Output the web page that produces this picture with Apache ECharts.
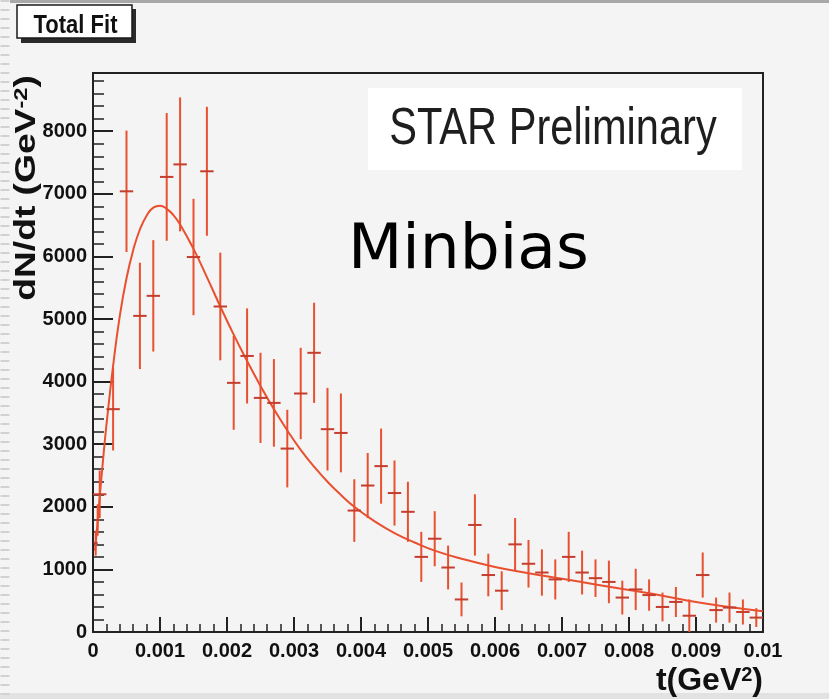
<!DOCTYPE html>
<html>
<head>
<meta charset="utf-8">
<script src="https://cdn.jsdelivr.net/npm/echarts@6/dist/echarts.min.js"></script>
<style>
html,body{margin:0;padding:0;background:#f4f4f4;}
#chart{width:829px;height:699px;}
</style>
</head>
<body>
<div id="chart"></div>
<script>
// ---- data ----
const tValues = [0.00004, 0.00007, 0.0001, 0.0003, 0.0005, 0.0007, 0.0009, 0.0011, 0.0013, 0.0015, 0.0017, 0.0019,
  0.0021, 0.0023, 0.0025, 0.0027, 0.0029, 0.0031, 0.0033, 0.0035, 0.0037, 0.0039,
  0.0041, 0.0043, 0.0045, 0.0047, 0.0049, 0.0051, 0.0053, 0.0055, 0.0057, 0.0059,
  0.0061, 0.0063, 0.0065, 0.0067, 0.0069, 0.0071, 0.0073, 0.0075, 0.0077, 0.0079,
  0.0081, 0.0083, 0.0085, 0.0087, 0.0089, 0.0091, 0.0093, 0.0095, 0.0097, 0.0099];
const dNdt = [1420, 1790, 2200, 3560, 7040, 5050, 5370, 7270, 7470, 5990, 7360, 5200,
  3980, 4410, 3740, 3660, 2930, 3810, 4460, 3240, 3180, 1940,
  2340, 2650, 2220, 1920, 1200, 1490, 1030, 520, 1710, 910,
  660, 1400, 1090, 950, 840, 1200, 950, 860, 800, 550,
  680, 590, 400, 480, 260, 910, 350, 390, 320, 230];
const dNdtErr = [200, 250, 380, 660, 970, 850, 890, 1020, 1070, 930, 1030, 860,
  750, 760, 720, 700, 620, 730, 800, 660, 630, 500,
  520, 600, 520, 480, 400, 440, 350, 270, 490, 340,
  310, 420, 380, 370, 320, 400, 350, 300, 340, 270,
  330, 250, 230, 240, 260, 360, 200, 240, 200, 150];
const binHalfWidth = [0.00003, 0.00003, 0.0001, 0.0001, 0.0001, 0.0001, 0.0001, 0.0001, 0.0001, 0.0001, 0.0001, 0.0001,
  0.0001, 0.0001, 0.0001, 0.0001, 0.0001, 0.0001, 0.0001, 0.0001, 0.0001, 0.0001,
  0.0001, 0.0001, 0.0001, 0.0001, 0.0001, 0.0001, 0.0001, 0.0001, 0.0001, 0.0001,
  0.0001, 0.0001, 0.0001, 0.0001, 0.0001, 0.0001, 0.0001, 0.0001, 0.0001, 0.0001,
  0.0001, 0.0001, 0.0001, 0.0001, 0.0001, 0.0001, 0.0001, 0.0001, 0.0001, 0.0001];

const fitT = [0.00003, 0.00006, 0.0001, 0.00015, 0.0002, 0.0003, 0.0004, 0.0005, 0.0006, 0.0007, 0.0008, 0.0009,
  0.001, 0.0011, 0.0012, 0.0013, 0.0015, 0.0017, 0.0019, 0.0021, 0.0023, 0.0025, 0.0027, 0.0029, 0.0031,
  0.0033, 0.0035, 0.0037, 0.0039, 0.0042, 0.0045, 0.0048, 0.0051, 0.0055, 0.006, 0.0065, 0.007, 0.0075,
  0.008, 0.0085, 0.009, 0.0095, 0.01];
const fitY = [1300, 1650, 2150, 2750, 3300, 4250, 5050, 5650, 6100, 6430, 6650, 6780,
  6810, 6760, 6660, 6510, 6120, 5670, 5200, 4750, 4330, 3930, 3560, 3220, 2910,
  2640, 2400, 2190, 2000, 1770, 1580, 1430, 1300, 1170, 1040, 940, 850, 760,
  670, 580, 480, 400, 330];

const xTitle = 't(GeV{sup|2})';
const yTitle = 'dN/dt (GeV{sup|-2})';

// ---- chart ----
const FONT = "'Liberation Sans',Arial,sans-serif";
const RED = '#e9502f';
const RED_DARK = '#c53d2c';
const AXIS = '#222222';

const chart = echarts.init(document.getElementById('chart'), null, {renderer: 'canvas'});

const barData = tValues.map((t, i) => [t, dNdt[i], dNdtErr[i], binHalfWidth[i]]);
const fitData = fitT.map((t, i) => [t, fitY[i]]);

chart.setOption({
  backgroundColor: '#f4f4f4',
  animation: false,
  grid: {left: 93, right: 66, top: 73, bottom: 67, show: true, borderColor: AXIS, borderWidth: 2, backgroundColor: 'transparent'},
  xAxis: {
    type: 'value', min: 0, max: 0.01, interval: 0.001,
    axisLine: {show: true, onZero: false, lineStyle: {color: AXIS, width: 2}},
    axisTick: {show: true, inside: true, length: 15, lineStyle: {color: AXIS, width: 2}},
    minorTick: {show: true, splitNumber: 5, length: 8, lineStyle: {color: AXIS, width: 1.5}},
    splitLine: {show: false},
    axisLabel: {color: '#111', fontFamily: FONT, fontWeight: 'bold', fontSize: 20, margin: 9,
      formatter: v => String(+v.toFixed(4))}
  },
  yAxis: {
    type: 'value', min: 0, max: 8930, interval: 1000,
    axisLine: {show: true, onZero: false, lineStyle: {color: AXIS, width: 2}},
    axisTick: {show: true, inside: true, length: 20, lineStyle: {color: AXIS, width: 2}},
    minorTick: {show: true, splitNumber: 5, length: 11, lineStyle: {color: AXIS, width: 1.5}},
    splitLine: {show: false},
    axisLabel: {color: '#111', fontFamily: FONT, fontWeight: 'bold', fontSize: 20, margin: 6, showMaxLabel: false,
      formatter: v => String(v)}
  },
  series: [
    {
      type: 'line', data: fitData, smooth: 0.5, showSymbol: false, clip: true,
      lineStyle: {color: RED, width: 2}, z: 2
    },
    {
      type: 'custom', data: barData, clip: true, z: 3,
      encode: {x: 0, y: 1},
      renderItem: function (params, api) {
        const t = api.value(0), y = api.value(1), e = api.value(2), h = api.value(3);
        const top = api.coord([t, y + e]);
        const bot = api.coord([t, Math.max(0, y - e)]);
        const l = api.coord([t - h, y]);
        const r = api.coord([t + h, y]);
        return {
          type: 'group',
          children: [
            {type: 'line', shape: {x1: top[0], y1: top[1], x2: bot[0], y2: bot[1]}, style: {stroke: RED, lineWidth: 2}},
            {type: 'line', shape: {x1: l[0], y1: l[1], x2: r[0], y2: r[1]}, style: {stroke: RED_DARK, lineWidth: 2}}
          ]
        };
      }
    }
  ],
  graphic: [
    // scan artifacts: top rule, bottom band, left dashes
    {type: 'rect', shape: {x: 10, y: 0, width: 829, height: 3}, style: {fill: '#a8a8a8'}, silent: true},
    {type: 'rect', shape: {x: 0, y: 693, width: 829, height: 6}, style: {fill: '#e2e2e2'}, silent: true},
    {type: 'line', shape: {x1: 5, y1: 0, x2: 5, y2: 699}, style: {stroke: '#d2d2d2', lineWidth: 9, lineDash: [2, 7]}, silent: true},
    // Total Fit box
    {type: 'rect', shape: {x: 21, y: 9, width: 115, height: 34}, style: {fill: '#2a2a2a'}, silent: true},
    {type: 'rect', shape: {x: 17, y: 5, width: 115, height: 33}, style: {fill: '#ffffff', stroke: '#1a1a1a', lineWidth: 1.5}, silent: true},
    {type: 'text', x: 75.5, y: 26, scaleX: 0.88, style: {text: 'Total Fit', font: 'bold 25px ' + FONT, fill: '#111', align: 'center', verticalAlign: 'middle'}, silent: true},
    // STAR Preliminary box
    {type: 'rect', shape: {x: 368, y: 88, width: 374, height: 82}, style: {fill: '#ffffff'}, silent: true},
    {type: 'text', x: 553, y: 130, scaleX: 0.8, style: {text: 'STAR Preliminary', font: '52px ' + FONT, fill: '#1e1e1e', align: 'center', verticalAlign: 'middle'}, silent: true},
    // Minbias
    {type: 'text', x: 348, y: 252, style: {text: 'Minbias', font: "63px 'DejaVu Sans',sans-serif", fill: '#000', align: 'left', verticalAlign: 'middle'}, silent: true},
    // axis titles
    {type: 'text', x: 27, y: 188, rotation: Math.PI / 2, scaleX: 1.24, style: {
      text: yTitle, font: 'bold 30px ' + FONT, fill: '#111', align: 'center', verticalAlign: 'middle',
      rich: {sup: {fontSize: 19, fontWeight: 'bold', fontFamily: FONT, verticalAlign: 'top', fill: '#111'}}
    }, silent: true},
    {type: 'text', x: 763, y: 681, style: {
      text: xTitle, font: 'bold 32px ' + FONT, fill: '#111', align: 'right', verticalAlign: 'middle',
      rich: {sup: {fontSize: 20, fontWeight: 'bold', fontFamily: FONT, verticalAlign: 'top', fill: '#111'}}
    }, silent: true}
  ]
});
</script>
</body>
</html>
